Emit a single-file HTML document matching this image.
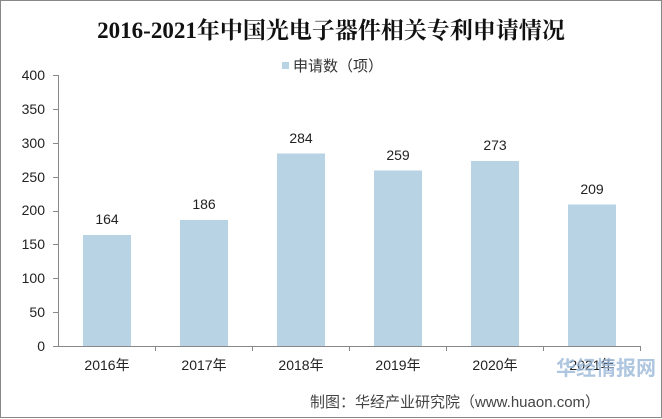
<!DOCTYPE html>
<html><head><meta charset="utf-8"><style>
body{margin:0;background:#fff;}
svg{display:block;font-family:"Liberation Sans","Noto Sans CJK SC",sans-serif;}
</style></head><body>
<svg width="662" height="419" viewBox="0 0 662 419">
<rect x="0.5" y="0.5" width="661" height="417" fill="#fff" stroke="#888"/>
<text x="331" y="38" text-anchor="middle" font-family="Liberation Serif,'Noto Serif CJK SC',serif" font-weight="bold" font-size="23" fill="#111">2016-2021年中国光电子器件相关专利申请情况</text>
<rect x="282" y="62" width="7" height="7" fill="#b8d3e3"/>
<text x="293" y="71" font-size="15" fill="#333">申请数（项）</text>
<g font-size="14" fill="#222" text-anchor="end">
<text x="45" y="351">0</text><text x="45" y="317">50</text><text x="45" y="283">100</text><text x="45" y="249">150</text><text x="45" y="215">200</text><text x="45" y="182">250</text><text x="45" y="148">300</text><text x="45" y="114">350</text><text x="45" y="80">400</text>
</g>
<g stroke="#888" stroke-width="1">
<line x1="58.5" y1="75" x2="58.5" y2="346"/>
<line x1="58" y1="346.5" x2="640" y2="346.5"/>
<line x1="53" y1="75.5" x2="58" y2="75.5"/><line x1="53" y1="109.5" x2="58" y2="109.5"/><line x1="53" y1="143.5" x2="58" y2="143.5"/><line x1="53" y1="177.5" x2="58" y2="177.5"/><line x1="53" y1="211.5" x2="58" y2="211.5"/><line x1="53" y1="244.5" x2="58" y2="244.5"/><line x1="53" y1="278.5" x2="58" y2="278.5"/><line x1="53" y1="312.5" x2="58" y2="312.5"/><line x1="53" y1="346.5" x2="58" y2="346.5"/>
<line x1="155.5" y1="346" x2="155.5" y2="351"/><line x1="252.5" y1="346" x2="252.5" y2="351"/><line x1="349.5" y1="346" x2="349.5" y2="351"/><line x1="446.5" y1="346" x2="446.5" y2="351"/><line x1="543.5" y1="346" x2="543.5" y2="351"/><line x1="640.5" y1="346" x2="640.5" y2="351"/>
</g>
<g fill="#b8d3e3">
<rect x="83" y="235" width="48" height="111"/>
<rect x="180" y="220" width="48" height="126"/>
<rect x="277" y="153.5" width="48" height="192.5"/>
<rect x="374" y="170.5" width="48" height="175.5"/>
<rect x="471" y="161" width="48" height="185"/>
<rect x="568" y="204.5" width="48" height="141.5"/>
</g>
<g font-size="14" fill="#222" text-anchor="middle">
<text x="107" y="224">164</text><text x="204" y="209">186</text><text x="301" y="143">284</text><text x="398" y="160">259</text><text x="495" y="150">273</text><text x="592" y="194">209</text>
</g>
<g font-size="14" fill="#222" text-anchor="middle">
<text x="107" y="370">2016年</text><text x="204" y="370">2017年</text><text x="301" y="370">2018年</text><text x="398" y="370">2019年</text><text x="495" y="370">2020年</text><text x="592" y="370">2021年</text>
</g>
<text x="310" y="407" font-size="15" fill="#444">制图：华经产业研究院（www.huaon.com）</text>
<text x="556" y="375" font-size="20" font-weight="bold" fill="#9bb8d8" opacity="0.8">华经情报网</text>
</svg>
</body></html>
